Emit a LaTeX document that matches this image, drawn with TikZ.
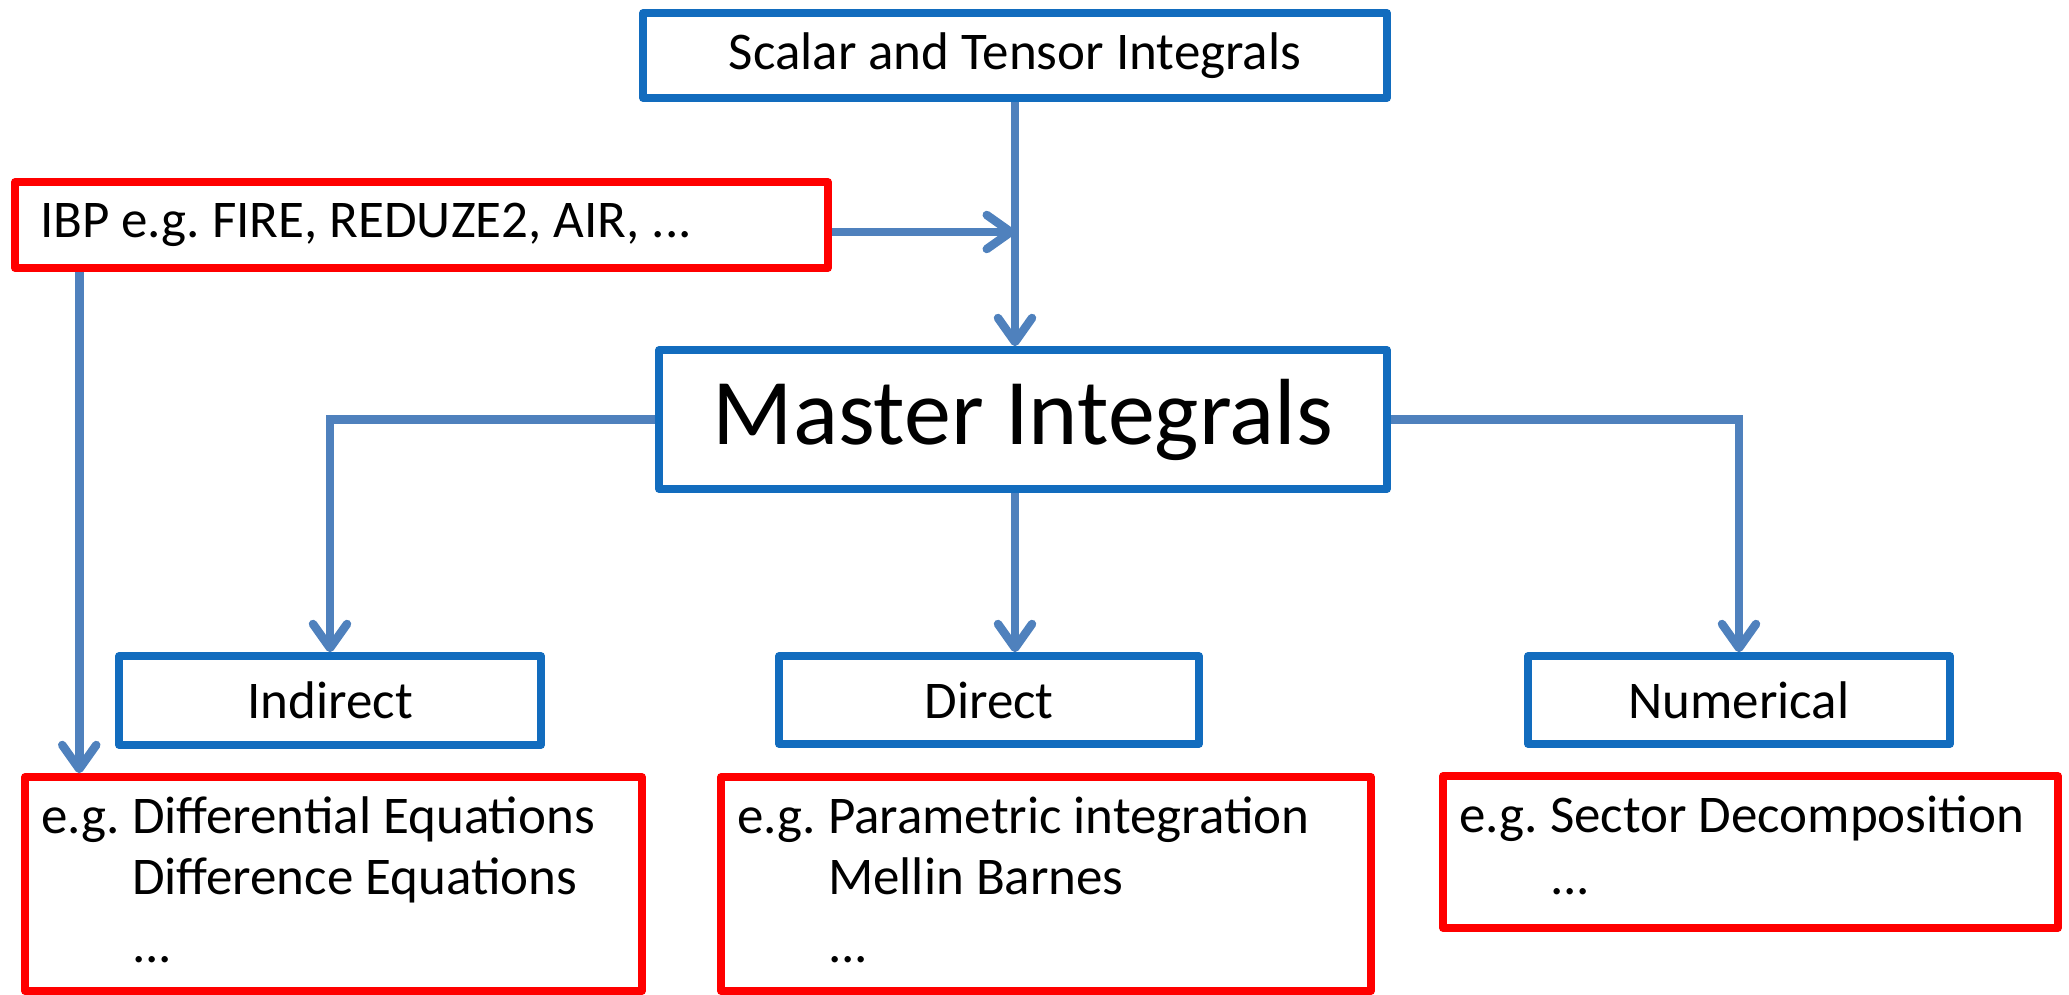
\documentclass[tikz,border=0pt]{standalone}
\usepackage{fontspec}
\setmainfont{Carlito}
\usetikzlibrary{arrows.meta}
\definecolor{boxblue}{RGB}{18,108,190}
\definecolor{linkblue}{RGB}{79,129,189}
\definecolor{boxred}{RGB}{255,0,0}
\frenchspacing
\begin{document}
\frenchspacing
\begin{tikzpicture}[x=1pt,y=-1pt,
  basefont/.style={font=\fontsize{53}{64}\selectfont\frenchspacing},
  bluebox/.style={draw=boxblue, line width=7.5pt, line join=round, rectangle, inner sep=0pt, basefont},
  redbox/.style={draw=boxred, line width=7.5pt, line join=round, rectangle, inner sep=0pt, basefont},
  conn/.style={draw=linkblue, line width=8.5pt},
  arr/.style={conn, -{Straight Barb[length=24pt,width=34pt,round]}},
  txt/.style={anchor=base west, inner sep=0pt, basefont}]

\useasboundingbox (0,0) rectangle (2069,995);

% blue boxes
\node[bluebox, minimum width=744pt, minimum height=85pt] (top) at (1015,55.5) {Scalar and Tensor Integrals};
\node[bluebox, minimum width=728pt, minimum height=139pt, font=\fontsize{94}{110}\selectfont] (master) at (1023,419.5) {Master Integrals};
\node[bluebox, minimum width=422pt, minimum height=89pt] (indirect) at (330,700.5) {Indirect};
\node[bluebox, minimum width=420pt, minimum height=88pt] (direct) at (989,700) {Direct};
\node[bluebox, minimum width=422pt, minimum height=88pt] (numerical) at (1739,700) {Numerical};

% red boxes
\node[redbox, minimum width=813pt, minimum height=86pt, text width=763pt, inner xsep=25pt, align=left] (ibp) at (421.5,225) {\spaceskip=12pt IBP e.g. FIRE, REDUZE2, AIR, ...};
\node[redbox, minimum width=617pt, minimum height=214pt] (r1) at (333.5,884) {};
\node[redbox, minimum width=650pt, minimum height=214pt] (r2) at (1046,884) {};
\node[redbox, minimum width=615pt, minimum height=152pt] (r3) at (1750.5,852) {};

% texts of red boxes
\node[txt] (r1a) at ([shift={(20,60)}]r1.north west) {e.g. Differential Equations};
\node[txt] (r1b) at ([shift={(20,121)}]r1.north west) {\hphantom{e.g. }Difference Equations};
\node[txt] (r1c) at ([shift={(20,189)}]r1.north west) {\hphantom{e.g. }...};
\node[txt] (r2a) at ([shift={(20,60)}]r2.north west) {e.g. Parametric integration};
\node[txt] (r2b) at ([shift={(20,121)}]r2.north west) {\hphantom{e.g. }Mellin Barnes};
\node[txt] (r2c) at ([shift={(20,189)}]r2.north west) {\hphantom{e.g. }...};
\node[txt] (r3a) at ([shift={(20,60)}]r3.north west) {e.g. Sector Decomposition};
\node[txt] (r3b) at ([shift={(20,122)}]r3.north west) {\hphantom{e.g. }...};

% connectors
\coordinate (join) at ([yshift=-7pt]ibp.east -| top.south);
\draw[arr] (top.south) -- (top.south |- master.north);
\draw[arr] ([yshift=-7pt]ibp.east) -- (join);
\draw[arr] (master.west) -| (indirect.north);
\draw[arr] (master.east) -| (numerical.north);
\draw[arr] (master.south -| top.south) -- (top.south |- direct.north);
\draw[arr] ([xshift=68pt]ibp.south west) -- ([xshift=68pt]ibp.south west |- r1.north);
\end{tikzpicture}
\end{document}
